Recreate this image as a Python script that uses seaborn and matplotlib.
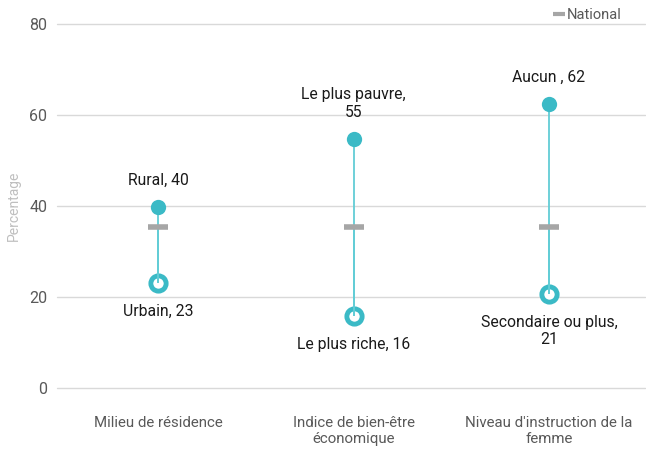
import matplotlib
matplotlib.use("Agg")
import matplotlib.pyplot as plt
import seaborn as sns
import pandas as pd
from matplotlib.lines import Line2D

categories = ["Milieu de résidence", "Indice de bien-être\néconomique", "Niveau d'instruction de la\nfemme"]
high_values = [39.8, 54.7, 62.4]
high_labels = ["Rural, 40", "Le plus pauvre,\n55", "Aucun , 62"]
low_values = [23.1, 15.8, 20.7]
low_labels = ["Urbain, 23", "Le plus riche, 16", "Secondaire ou plus,\n21"]
national = [35.5, 35.5, 35.5]
yticks = [0, 20, 40, 60, 80]

sns.set_theme(style="white")
plt.rcParams['font.family'] = ['Roboto', 'DejaVu Sans']

df = pd.DataFrame({"cat": categories, "high": high_values, "low": low_values, "nat": national})

fig = plt.figure(figsize=(6.46, 4.49), dpi=100)
ax = fig.add_axes([0.088, 0.136, 0.91, 0.81])

teal = "#3bbac6"
line_teal = "#62cdd6"
xpos = list(range(len(categories)))

ax.vlines(xpos, df["low"], df["high"], color=line_teal, lw=1.3, zorder=2)
sns.stripplot(data=df, x="cat", y="high", order=categories, jitter=False, ax=ax,
              color=teal, s=11, linewidth=0, zorder=3)
sns.stripplot(data=df, x="cat", y="low", order=categories, jitter=False, ax=ax,
              color="white", s=11, linewidth=3.5, edgecolor=teal, zorder=1)
ax.vlines(xpos, df["low"], df["nat"], color=line_teal, lw=1.3, zorder=4)
sns.stripplot(data=df, x="cat", y="nat", order=categories, jitter=False, ax=ax,
              color="#a6a6a6", marker="_", s=14, linewidth=4, zorder=5)

for i in xpos:
    ax.annotate(high_labels[i], (i, high_values[i]), xytext=(0, 14), textcoords="offset points",
                ha="center", va="bottom", fontsize=11.3, color="#1a1a1a", linespacing=1.2)
    ax.annotate(low_labels[i], (i, low_values[i]), xytext=(0, -15), textcoords="offset points",
                ha="center", va="top", fontsize=11.3, color="#1a1a1a", linespacing=1.2)

ax.set_ylim(0, 80)
ax.set_xlim(-0.52, 2.49)
ax.set_yticks(yticks)
ax.yaxis.grid(True, color="#d9d9d9", lw=1)
ax.xaxis.grid(False)
for line in ax.get_ygridlines():
    line.set_clip_on(False)
for s in ax.spines.values():
    s.set_visible(False)
ax.tick_params(axis="y", colors="#595959", labelsize=11.5, length=0, pad=7)
ax.tick_params(axis="x", colors="#595959", labelsize=10.8, length=0, pad=20)
ax.set_xlabel("")
ax.set_ylabel("Percentage", color="#bfbfbf", fontsize=10, labelpad=6)

handle = Line2D([], [], color="#a6a6a6", marker="_", linestyle="none", markersize=9, markeredgewidth=3)
ax.legend([handle], ["National"], loc="upper right", bbox_to_anchor=(0.97, 1.06), frameon=False,
          fontsize=10.5, labelcolor="#595959", handlelength=0.6, handletextpad=0.2, borderaxespad=0)

fig.savefig("out.png", dpi=100)
